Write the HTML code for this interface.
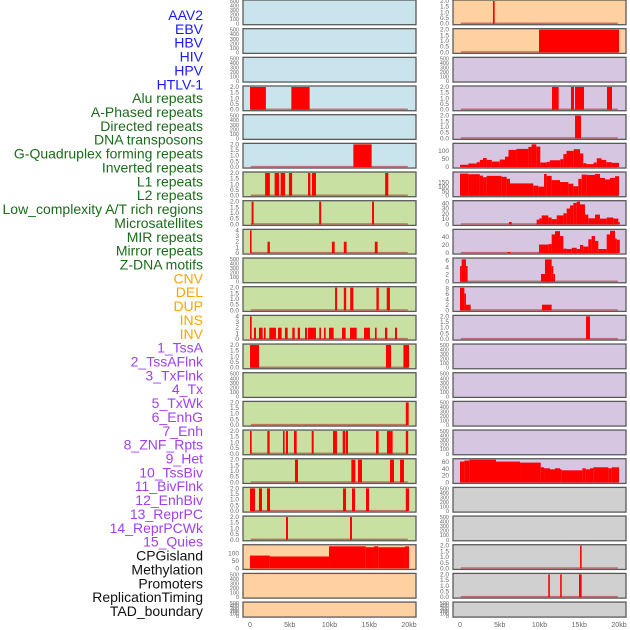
<!DOCTYPE html>
<html><head><meta charset="utf-8"><style>
html,body{margin:0;padding:0;background:#fff;width:630px;height:630px;overflow:hidden}
svg{display:block;font-family:"Liberation Sans",sans-serif}
</style></head><body>
<svg id="chart" width="630" height="630" viewBox="0 0 630 630" xmlns="http://www.w3.org/2000/svg"></svg>
<script>
const labels = ["AAV2","EBV","HBV","HIV","HPV","HTLV-1","Alu repeats","A-Phased repeats","Directed repeats","DNA transposons","G-Quadruplex forming repeats","Inverted repeats","L1 repeats","L2 repeats","Low_complexity A/T rich regions","Microsatellites","MIR repeats","Mirror repeats","Z-DNA motifs","CNV","DEL","DUP","INS","INV","1_TssA","2_TssAFlnk","3_TxFlnk","4_Tx","5_TxWk","6_EnhG","7_Enh","8_ZNF_Rpts","9_Het","10_TssBiv","11_BivFlnk","12_EnhBiv","13_ReprPC","14_ReprPCWk","15_Quies","CPGisland","Methylation","Promoters","ReplicationTiming","TAD_boundary"];
const labelGroups = ["virus","virus","virus","virus","virus","virus","repeat","repeat","repeat","repeat","repeat","repeat","repeat","repeat","repeat","repeat","repeat","repeat","repeat","sv","sv","sv","sv","sv","chrom","chrom","chrom","chrom","chrom","chrom","chrom","chrom","chrom","chrom","chrom","chrom","chrom","chrom","chrom","other","other","other","other","other"];
const xTickValues = [0,5,10,15,20];
const xTickLabels = ["0","5kb","10kb","15kb","20kb"];
const ticksEmpty = [0,100,200,300,400,500];
const ticks2 = [0,0.5,1,1.5,2];
const ticks4 = [0,1,2,3,4];

// left column data (kb start, kb end, value)
const htlvBars = [[0,2,2],[5.2,7.5,2]];
const gquadPrevBars = [[13.0,15.3,2]];
const aluBars = [[1.9,2.5,2],[3.1,3.65,2],[3.85,4.4,2],[4.9,5.3,2],[7.3,7.6,2],[7.8,8.3,2],[17.0,17.4,2]];
const aphasedBars = [[0.2,0.45,2],[8.7,8.95,2],[15.35,15.6,2]];
const directedBars = [[0,0.2,4],[2.2,2.5,2],[10.3,10.65,2],[11.8,12.15,2],[15.7,16.05,2]];
const gquadBars = [[10.7,10.95,2],[11.8,12.1,2],[12.6,13.0,2],[15.9,16.2,2],[17.2,17.6,2]];
const invertedBars = [[0,0.21,4],[0.5,0.75,2],[1.13,1.59,2],[1.76,1.97,2],[2.43,3.27,2],[3.52,3.98,2],[4.40,4.74,2],[5.32,5.62,2],[6.0,6.29,2],[6.92,7.17,2],[7.30,8.30,2],[8.72,8.93,2],[9.31,9.52,2],[9.94,10.52,2],[11.57,12.03,2],[12.58,13.42,2],[14.34,15.09,2],[15.72,15.93,2],[16.98,17.27,2],[18.24,18.49,2]];
const l1Bars = [[0,1.13,2],[17.1,17.74,2],[19.3,20,2]];
const lowComplexityBars = [[19.6,19.96,2]];
const microsatBars = [[0,0.21,2],[2.18,2.47,2],[4.15,4.36,2],[4.53,4.78,2],[5.53,5.87,2],[7.76,8.01,2],[10.44,10.94,2],[11.66,11.95,2],[12.03,12.33,2],[15.85,16.18,2],[17.23,17.94,2],[19.6,19.9,2]];
const mirBars = [[5.66,6.04,2],[12.75,13.25,2],[13.58,14.09,2],[17.61,18.11,2],[18.87,19.37,2]];
const mirrorBars = [[0,0.63,2],[1.13,1.51,2],[2.14,2.52,2],[11.7,12.08,2],[12.83,13.21,2],[14.59,14.97,2],[19.6,20,2]];
const zdnaBars = [[4.53,4.78,2],[12.58,12.83,2]];
const cnvBars = [[0,2.5,85],[2.5,9.94,79],[9.94,14.55,146],[14.55,15.6,140],[15.6,16.14,146],[16.14,19.5,140],[19.5,20,146]];

// right column data
const insBars = [[4.15,4.36,2]];
const invBars = [[9.94,20,2]];
const tssAFlnkBars = [[11.57,12.41,2],[13.96,14.34,2],[14.47,15.6,2],[18.49,19.12,2]];
const txFlnkBars = [[14.47,15.22,2]];
const txBars = [[0,1.05,14],[1.05,2.1,22],[2.1,2.5,30],[2.5,2.9,44],[2.9,3.35,56],[3.35,4.0,44],[4.0,5.0,34],[5.0,5.66,46],[5.66,6.1,64],[6.1,7.1,106],[7.1,8.6,112],[8.6,9.0,124],[9.0,9.6,140],[9.6,10.1,126],[10.1,10.9,28],[10.9,11.3,32],[11.3,12.6,42],[12.6,13.0,48],[13.0,13.4,80],[13.4,14.3,100],[14.3,15.1,110],[15.1,15.5,84],[15.5,15.9,24],[15.9,16.8,18],[16.8,17.2,28],[17.2,17.8,54],[17.8,18.4,44],[18.4,19.1,30],[19.1,20,26]];
const txWkBars = [[0,1.05,255],[1.05,2.5,248],[2.5,2.9,232],[2.9,3.35,214],[3.35,5.24,229],[5.24,5.87,218],[5.87,6.29,195],[6.29,9.22,142],[9.22,9.85,116],[9.85,10.57,105],[10.57,10.9,251],[10.9,11.53,229],[11.53,12.58,180],[12.58,13.63,158],[13.63,14.26,139],[14.26,14.88,109],[14.88,15.3,195],[15.3,15.93,244],[15.93,16.98,240],[16.98,17.61,251],[17.61,18.24,206],[18.24,18.87,188],[18.87,19.5,206],[19.5,20,225]];
const enhGBars = [[6.16,6.5,4.6],[9.64,9.98,9],[9.98,10.27,11.6],[10.27,11.11,17],[11.11,11.53,13],[11.53,12.16,10],[12.16,13.0,17],[13.0,13.42,21],[13.42,13.84,30],[13.84,14.26,36],[14.26,14.68,40.6],[14.68,15.09,43],[15.09,15.72,38],[15.72,16.14,18.5],[16.14,16.98,11.6],[16.98,17.61,18.5],[17.61,18.45,11],[18.45,19.29,13],[19.29,19.92,11],[19.92,20.1,4.6]];
const enhBars = [[5.95,6.37,2.4],[9.94,11.11,21],[11.11,11.53,22],[11.53,11.95,46],[11.95,12.58,54],[12.58,13.0,42],[13.0,13.42,11],[13.42,14.05,10],[14.05,14.68,13],[14.68,15.09,10],[15.09,15.51,20],[15.51,16.14,16],[16.14,16.56,34],[16.56,16.98,42],[16.98,17.4,30],[17.4,18.45,10],[18.45,18.87,46],[18.87,19.5,55],[19.5,19.71,36],[19.71,20.1,33]];
const znfBars = [[0,0.21,4.4],[0.21,0.75,6.3],[0.75,0.96,4.4],[10.19,10.69,2.2],[10.69,11.53,6.3],[11.53,11.74,4.4],[11.74,11.95,2.2]];
const hetBars = [[0,0.55,8.3],[0.55,0.75,6.2],[0.75,1.34,2.1],[10.31,11.53,2.1]];
const tssBivBars = [[15.85,16.35,2]];
const quiesBars = [[0,0.55,62],[0.55,1.17,65],[1.17,4.53,67.5],[4.53,7.55,62],[7.55,10.15,59],[10.15,10.57,45],[10.57,11.32,42],[11.32,11.95,39],[11.95,12.58,42],[12.58,12.79,39],[12.79,15.39,36],[15.39,15.81,42],[15.81,16.35,39],[16.35,16.77,42],[16.77,18.66,45],[18.66,19.08,42],[19.08,20,45]];
const promotersBars = [[15.1,15.3,2]];
const replicationBars = [[11.1,11.3,2],[12.6,12.8,2],[14.97,15.3,2]];

const leftData = [null,null,null,htlvBars,null,gquadPrevBars,aluBars,aphasedBars,directedBars,null,gquadBars,invertedBars,l1Bars,null,lowComplexityBars,microsatBars,mirBars,mirrorBars,zdnaBars,cnvBars,null,null];
const leftYmax = [500,500,500,2,500,2,2,2,4,500,2,4,2,500,2,2,2,2,2,150,500,500];
const leftTicks = [ticksEmpty,ticksEmpty,ticksEmpty,ticks2,ticksEmpty,ticks2,ticks2,ticks2,ticks4,ticksEmpty,ticks2,ticks4,ticks2,ticksEmpty,ticks2,ticks2,ticks2,ticks2,ticks2,[0,50,100],ticksEmpty,ticksEmpty];
const rightData = [insBars,invBars,null,tssAFlnkBars,txFlnkBars,txBars,txWkBars,enhGBars,enhBars,znfBars,hetBars,tssBivBars,null,null,null,null,quiesBars,null,null,promotersBars,replicationBars,null];
const rightYmax = [2,2,500,2,2,140,262,43,56,6.4,8.35,2,500,500,500,500,67.5,500,500,2,2,500];
const rightTicks = [ticks2,ticks2,ticksEmpty,ticks2,ticks2,[0,50,100],[0,50,100,150],[0,10,20,30,40],[0,20,40],[0,2,4,6],[0,2,4,6,8],ticks2,ticksEmpty,ticksEmpty,ticksEmpty,ticksEmpty,[0,20,40,60],ticksEmpty,ticksEmpty,ticks2,ticks2,ticksEmpty];
const leftBg = ["blue","blue","blue","blue","blue","blue","green","green","green","green","green","green","green","green","green","green","green","green","green","orange","orange","orange"];
const rightBg = ["orange","orange","purple","purple","purple","purple","purple","purple","purple","purple","purple","purple","purple","purple","purple","purple","purple","grey","grey","grey","grey","grey"];

const NS = "http://www.w3.org/2000/svg";
const svg = document.getElementById("chart");
const bgColors = {blue:"#c9e4ec",green:"#c8e1a3",orange:"#ffd1a0",purple:"#d7c6e2",grey:"#d0d0d0"};
const labelColors = {virus:"#1a1aff",repeat:"#1b6b1b",sv:"#ffa500",chrom:"#a040f0",other:"#111"};
const colX = [243,453];
const boxW = 173;
const rowStep = 28.67;
function rowTop(i){ return i*rowStep; }
function rowH(i){ return i===21 ? 15 : 24.7; }
function xScale(kb,col){ return colX[col] + 7 + kb*7.95; }
function yScale(v,row,ymax){ const t=rowTop(row), h=rowH(row); return t+h-1 - (v/ymax)*(h-2); }
function mk(tag, attrs){ const e=document.createElementNS(NS,tag); for(const k in attrs) e.setAttribute(k,attrs[k]); svg.appendChild(e); return e; }
function fmt(v, ticks){ return ticks===ticks2 ? v.toFixed(1) : String(v); }

// labels
labels.forEach((lab,i)=>{
  const t = mk("text",{x:203,y:15+i*13.86+5,"text-anchor":"end","font-size":"14",fill:labelColors[labelGroups[i]]});
  t.textContent = lab;
  
  
});

function drawColumn(col, data, ymaxArr, ticksArr, bgArr){
  for(let r=0;r<22;r++){
    const top=rowTop(r), h=rowH(r), ymax=ymaxArr[r];
    const box = mk("rect",{x:colX[col],y:top,width:boxW,height:h,fill:bgColors[bgArr[r]],stroke:"#5a5a5a","stroke-width":"1.3"});
    
    
    const ticks = ticksArr[r];
    const fs = ticks===ticksEmpty ? 5.5 : 6.5;
    ticks.forEach(v=>{
      const y = Math.min(yScale(v,r,ymax), top+h);
      const tt = mk("text",{x:colX[col]-4,y:y+2,"text-anchor":"end","font-size":fs,fill:"#666"});
      tt.textContent = fmt(v,ticks);
      
      
    });
    const bars = data[r];
    if(bars){
      if(bars!==cnvBars){
        const bl = mk("rect",{x:xScale(0.1,col),y:yScale(0,r,ymax)-1.2,width:xScale(19.85,col)-xScale(0.1,col),height:1.5,fill:"#b03030","fill-opacity":"0.6"});
        
        
      }
      bars.forEach(b=>{
        const x0=xScale(b[0],col), x1=Math.min(xScale(b[1],col), colX[col]+boxW-0.7);
        const y1=yScale(b[2],r,ymax), y0=yScale(0,r,ymax);
        const rc = mk("rect",{x:x0,y:Math.max(y1,top+0.7),width:Math.max(x1-x0,1),height:y0-Math.max(y1,top+0.7),fill:"#ff0000"});
        
        
      });
    }
  }
  xTickValues.forEach((v,i)=>{
    const t = mk("text",{x:xScale(v,col),y:627,"text-anchor":"middle","font-size":"7",fill:"#666"});
    t.textContent = xTickLabels[i];
    
    
  });
}
drawColumn(0,leftData,leftYmax,leftTicks,leftBg);
drawColumn(1,rightData,rightYmax,rightTicks,rightBg);
</script>
</body></html>
